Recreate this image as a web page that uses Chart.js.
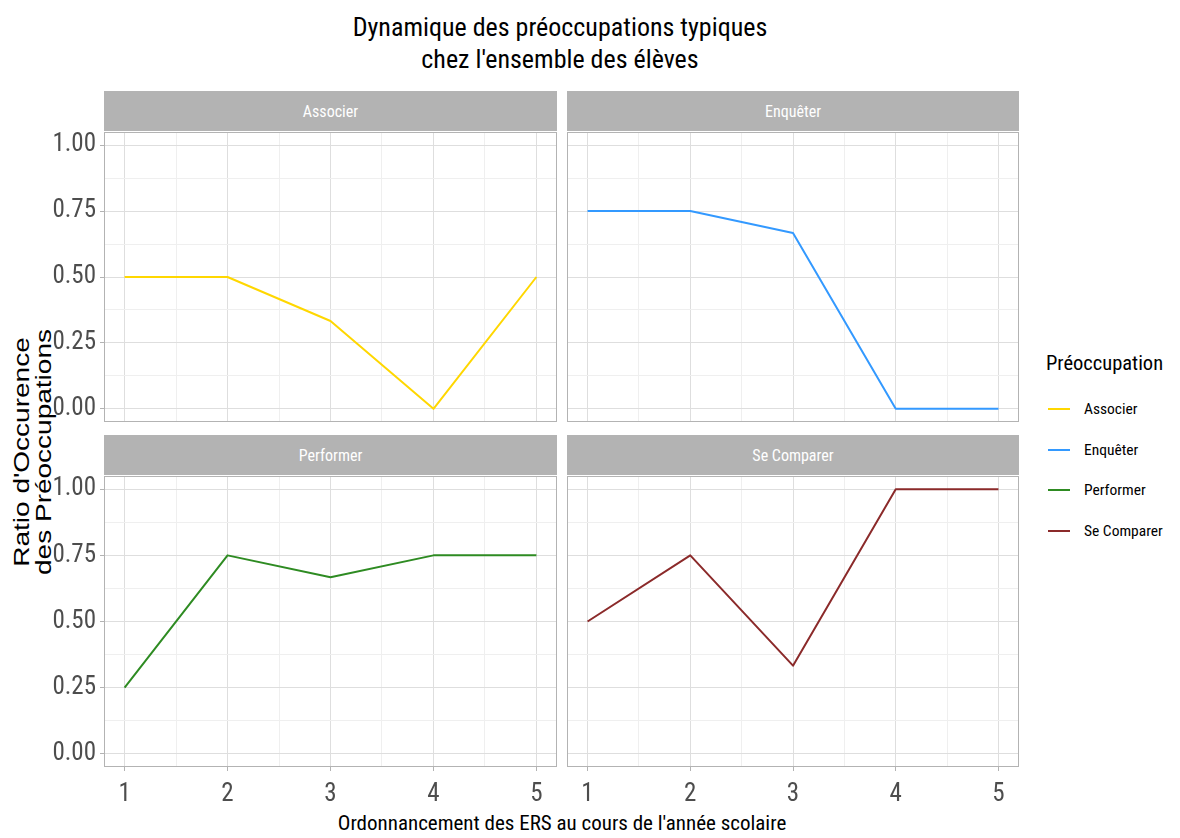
<!DOCTYPE html>
<html><head><meta charset="utf-8">
<script src="https://cdn.jsdelivr.net/npm/chart.js@4.4.1/dist/chart.umd.min.js"></script>
<style>
body{margin:0;background:#fff;width:1180px;height:838px;overflow:hidden;position:relative;
font-family:'Liberation Sans Narrow','Arial Narrow','Roboto Condensed',sans-serif;}
canvas{position:absolute;}
.strip{position:absolute;background:#B3B3B3;color:#fff;font-size:16px;display:flex;align-items:center;justify-content:center;white-space:nowrap;}
#title{position:absolute;left:0;width:1120px;top:11px;text-align:center;font-size:26px;line-height:32px;color:#000;}
#xtitle{position:absolute;left:62px;width:1000px;top:810px;text-align:center;font-size:21px;line-height:26px;color:#000;}
#ytitle{position:absolute;left:-117px;top:424px;width:300px;height:56px;text-align:center;white-space:nowrap;
font-family:'Liberation Sans',Arial,sans-serif;font-size:28px;line-height:28px;color:#000;
transform:rotate(-90deg) scaleY(0.8);transform-origin:150px 28px;}
#legend{position:absolute;left:1046px;top:349px;white-space:nowrap;}
#legend .lt{font-size:20.5px;line-height:28px;color:#000;margin-bottom:21px;}
#legend .it{position:relative;height:40.7px;font-size:15.5px;color:#000;}
#legend .key{position:absolute;left:2px;top:10px;width:22px;height:2px;}
#legend .lab{position:absolute;left:38px;top:0;line-height:22px;}
</style></head><body>
<div id="title">Dynamique des préoccupations typiques<br>chez l'ensemble des élèves</div>
<div id="ytitle">Ratio d'Occurence<br>des Préoccupations</div>
<div id="xtitle">Ordonnancement des ERS au cours de l'année scolaire</div>
<div id="legend"></div>
<script>
// ---- data ----
const categories = ['Associer', 'Enquêter', 'Performer', 'Se Comparer'];
const ersOrder = [1, 2, 3, 4, 5];
const associer = [0.5, 0.5, 0.333, 0, 0.5];
const enqueter = [0.75, 0.75, 0.667, 0, 0];
const performer = [0.25, 0.75, 0.667, 0.75, 0.75];
const seComparer = [0.5, 0.75, 0.333, 1, 1];
const yTickValues = [0, 0.25, 0.5, 0.75, 1];
const yTickLabels = ['0.00', '0.25', '0.50', '0.75', '1.00'];
const xTickLabels = ['1', '2', '3', '4', '5'];
const legendTitle = 'Préoccupation';

const seriesValues = [associer, enqueter, performer, seComparer];
const colors = ['#FFD700', '#3399FF', '#2E8B22', '#8B2A2A'];
const FONT = "'Liberation Sans Narrow','Arial Narrow','Roboto Condensed',sans-serif";

function withMinors(majors) {
  const out = [];
  majors.forEach((v, i) => {
    out.push({ value: v, major: true });
    if (i < majors.length - 1) out.push({ value: (v + majors[i + 1]) / 2, major: false });
  });
  return out;
}
const yGrid = withMinors(yTickValues);
const xGrid = withMinors(ersOrder);
function isMajor(list, v) { return list.some(t => Math.abs(t - v) < 1e-9); }

const panels = [
  { L: 104, T: 132, W: 453, H: 290, showY: true, showX: false },
  { L: 567, T: 132, W: 452, H: 290, showY: false, showX: false },
  { L: 104, T: 476, W: 453, H: 291, showY: true, showX: true },
  { L: 567, T: 476, W: 452, H: 291, showY: false, showX: true }
];
const PAD = 20, YW = 64, XH = 46;

const borderPlugin = {
  id: 'panelBorder',
  afterDatasetsDraw(chart) {
    const a = chart.chartArea, c = chart.ctx;
    c.save();
    c.strokeStyle = '#B3B3B3';
    c.lineWidth = 1;
    c.strokeRect(a.left + 0.5, a.top + 0.5, a.right - a.left - 1, a.bottom - a.top - 1);
    c.restore();
  }
};

panels.forEach((p, i) => {
  const yW = p.showY ? YW : 0, xH = p.showX ? XH : 0;
  const cv = document.createElement('canvas');
  const w = yW + p.W + 2 * PAD, h = p.H + xH + 2 * PAD;
  cv.width = w; cv.height = h;
  cv.style.width = w + 'px'; cv.style.height = h + 'px';
  cv.style.left = (p.L - yW - PAD) + 'px';
  cv.style.top = (p.T - PAD) + 'px';
  document.body.appendChild(cv);

  const strip = document.createElement('div');
  strip.className = 'strip';
  strip.style.left = p.L + 'px';
  strip.style.top = (p.T - 41) + 'px';
  strip.style.width = p.W + 'px';
  strip.style.height = '40px';
  strip.textContent = categories[i];
  document.body.appendChild(strip);

  new Chart(cv, {
    type: 'line',
    data: {
      datasets: [{
        label: categories[i],
        data: ersOrder.map((x, k) => ({ x: x, y: seriesValues[i][k] })),
        borderColor: colors[i],
        borderWidth: 2,
        pointRadius: 0,
        tension: 0,
        fill: false,
        borderJoinStyle: 'round'
      }]
    },
    options: {
      responsive: false,
      animation: false,
      devicePixelRatio: 1,
      events: [],
      layout: { padding: PAD },
      plugins: { legend: { display: false }, tooltip: { enabled: false } },
      scales: {
        x: {
          type: 'linear', min: 0.8, max: 5.2,
          afterBuildTicks: s => { s.ticks = xGrid.map(t => ({ value: t.value })); },
          afterFit: s => { s.height = xH; },
          border: { display: false },
          grid: {
            color: c => isMajor(ersOrder, c.tick.value) ? '#DEDEDE' : '#EFEFEF',
            lineWidth: 1,
            drawTicks: p.showX,
            tickLength: 4,
            tickColor: c => isMajor(ersOrder, c.tick.value) ? '#B3B3B3' : 'rgba(0,0,0,0)',
            tickWidth: 1
          },
          ticks: {
            display: p.showX, autoSkip: false, maxRotation: 0, minRotation: 0, padding: 9,
            color: '#4D4D4D', font: { family: FONT, size: 25 },
            callback: v => { const k = ersOrder.findIndex(t => Math.abs(t - v) < 1e-9); return k >= 0 ? xTickLabels[k] : ''; }
          }
        },
        y: {
          type: 'linear', min: -0.05, max: 1.05,
          afterBuildTicks: s => { s.ticks = yGrid.map(t => ({ value: t.value })); },
          afterFit: s => { s.width = yW; },
          border: { display: false },
          grid: {
            color: c => isMajor(yTickValues, c.tick.value) ? '#DEDEDE' : '#EFEFEF',
            lineWidth: 1,
            drawTicks: p.showY,
            tickLength: 4,
            tickColor: c => isMajor(yTickValues, c.tick.value) ? '#B3B3B3' : 'rgba(0,0,0,0)',
            tickWidth: 1
          },
          ticks: {
            display: p.showY, autoSkip: false, padding: 4,
            color: '#4D4D4D', font: { family: FONT, size: 25 },
            callback: v => { const k = yTickValues.findIndex(t => Math.abs(t - v) < 1e-9); return k >= 0 ? yTickLabels[k] : ''; }
          }
        }
      }
    },
    plugins: [borderPlugin]
  });
});

// legend
const lg = document.getElementById('legend');
const lt = document.createElement('div'); lt.className = 'lt'; lt.textContent = legendTitle; lg.appendChild(lt);
categories.forEach((c, i) => {
  const it = document.createElement('div'); it.className = 'it';
  const k = document.createElement('div'); k.className = 'key'; k.style.background = colors[i];
  const l = document.createElement('div'); l.className = 'lab'; l.textContent = c;
  it.appendChild(k); it.appendChild(l); lg.appendChild(it);
});
</script>
</body></html>
